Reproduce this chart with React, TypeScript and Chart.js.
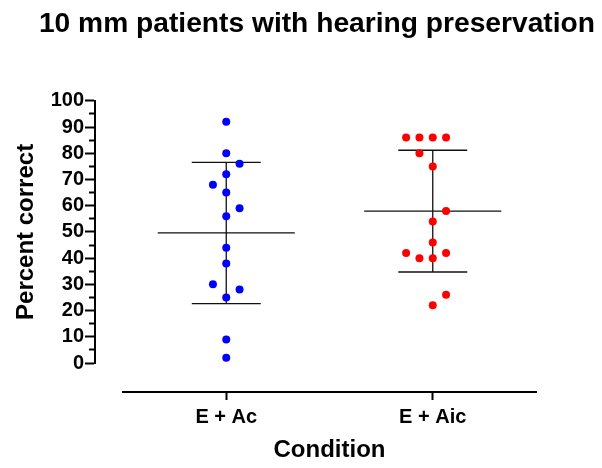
import React, { useEffect, useRef } from "react";
import { Chart, registerables } from "chart.js";

Chart.register(...registerables);

const CHART_TITLE = "10 mm patients with hearing preservation";
const X_TITLE = "Condition";
const Y_TITLE = "Percent correct";
const CATEGORIES = ["E + Ac", "E + Aic"];
const AC_VALUES = [92, 80, 76, 72, 68, 65, 59, 56, 44, 38, 30, 28, 25, 9, 2];
const AIC_VALUES = [86, 86, 86, 86, 80, 75, 58, 54, 46, 42, 42, 40, 40, 26, 22];
const SERIES = [AC_VALUES, AIC_VALUES];
const SERIES_COLORS = ["#0000ff", "#ff0000"];
const Y_MIN = 0;
const Y_MAX = 100;
const Y_STEP = 10;
const Y_MINOR_STEP = 5;

const SLOT_WIDTH = 0.0645; // horizontal spacing of scatter columns (x units)
const MEAN_HALF = 0.332;
const CAP_HALF = 0.167;
const LINE_COLOR = "#111111";

function mean(v: number[]) {
  return v.reduce((a, b) => a + b, 0) / v.length;
}
function sd(v: number[]) {
  const m = mean(v);
  return Math.sqrt(v.reduce((a, b) => a + (b - m) * (b - m), 0) / (v.length - 1));
}

// simple column-scatter spreading: points closer than minGap share no column
function swarmSlots(values: number[], minGap: number): number[] {
  const order = values.map((_, i) => i).sort((a, b) => values[a] - values[b]);
  const slots = new Array(values.length).fill(0);
  const placed: { slot: number; v: number }[] = [];
  let side = 1;
  for (const i of order) {
    const v = values[i];
    const free = (s: number) => placed.every((p) => p.slot !== s || Math.abs(p.v - v) >= minGap);
    let chosen = 0;
    if (!free(0)) {
      outer: for (let k = 1; k < 10; k++) {
        const cands = k === 1 ? [side * k, -side * k] : [-k, k];
        for (const s of cands) {
          if (free(s)) {
            chosen = s;
            break outer;
          }
        }
      }
      side = chosen < 0 ? 1 : -1;
    }
    slots[i] = chosen;
    placed.push({ slot: chosen, v });
  }
  return slots;
}

function lineDs(data: { x: number; y: number }[]) {
  return {
    type: "scatter" as const,
    data,
    showLine: true,
    borderColor: LINE_COLOR,
    borderWidth: 1.3,
    pointRadius: 0,
    fill: false,
    order: 2,
    clip: false as const,
  };
}

export default function App() {
  const ref = useRef<HTMLCanvasElement>(null);

  useEffect(() => {
    if (!ref.current) return;
    Chart.defaults.font.family = "'Liberation Sans', Arial, sans-serif";
    Chart.defaults.color = "#000";

    const datasets: any[] = [];
    SERIES.forEach((vals, g) => {
      const cx = g + 1;
      const slots = swarmSlots(vals, 5.5);
      datasets.push({
        type: "scatter",
        label: CATEGORIES[g],
        data: vals.map((v, i) => ({ x: cx + slots[i] * SLOT_WIDTH, y: v })),
        backgroundColor: SERIES_COLORS[g],
        borderColor: SERIES_COLORS[g],
        borderWidth: 0,
        pointRadius: 4,
        order: 1,
        clip: false,
      });
      const m = mean(vals);
      const s = sd(vals);
      datasets.push(lineDs([{ x: cx - MEAN_HALF, y: m }, { x: cx + MEAN_HALF, y: m }]));
      datasets.push(lineDs([{ x: cx, y: m - s }, { x: cx, y: m + s }]));
      datasets.push(lineDs([{ x: cx - CAP_HALF, y: m + s }, { x: cx + CAP_HALF, y: m + s }]));
      datasets.push(lineDs([{ x: cx - CAP_HALF, y: m - s }, { x: cx + CAP_HALF, y: m - s }]));
    });

    const hidden = {
      display: true,
      grid: { display: false },
      ticks: { display: false },
      border: { display: false },
    };

    const chart = new Chart(ref.current, {
      type: "scatter",
      data: { datasets },
      options: {
        animation: false,
        responsive: false,
        devicePixelRatio: 1,
        events: [],
        layout: { padding: { left: 0, right: 7, top: 0, bottom: 0 } },
        plugins: {
          legend: { display: false },
          tooltip: { enabled: false },
          title: {
            display: true,
            text: CHART_TITLE,
            align: "end",
            color: "#000",
            font: { size: 28.2, weight: "bold" },
            padding: { top: 7, bottom: 60 },
          },
        },
        scales: {
          x: {
            type: "linear",
            position: "bottom",
            weight: 2,
            min: 0.5,
            max: CATEGORIES.length + 0.5,
            afterBuildTicks: (scale: any) => {
              scale.ticks = CATEGORIES.map((_, i) => ({ value: i + 1 }));
            },
            afterFit: (scale: any) => {
              scale.height = 76;
            },
            ticks: {
              padding: 5,
              color: "#000",
              font: { size: 20, weight: "bold" },
              callback: (v: any) => CATEGORIES[Math.round(Number(v)) - 1] ?? "",
              autoSkip: false,
              maxRotation: 0,
            },
            grid: {
              display: true,
              drawOnChartArea: false,
              drawTicks: true,
              tickLength: 8,
              tickWidth: 2,
              tickColor: "#000",
            },
            border: { display: true, color: "#000", width: 2 },
            title: {
              display: true,
              text: X_TITLE,
              color: "#000",
              font: { size: 24, weight: "bold" },
              padding: { top: 0, bottom: 3.6 },
            },
          },
          xSpace: {
            ...hidden,
            type: "linear",
            position: "bottom",
            weight: 1,
            afterFit: (scale: any) => {
              scale.height = 29;
            },
          },
          y: {
            type: "linear",
            position: "left",
            weight: 3,
            min: Y_MIN,
            max: Y_MAX,
            afterFit: (scale: any) => {
              scale.width = 95;
            },
            ticks: {
              stepSize: Y_STEP,
              autoSkip: false,
              padding: 1,
              color: "#000",
              font: { size: 20, weight: "bold" },
            },
            grid: {
              display: true,
              drawOnChartArea: false,
              drawTicks: true,
              tickLength: 10,
              tickWidth: 2,
              tickColor: "#000",
            },
            border: { display: true, color: "#000", width: 2 },
            title: {
              display: true,
              text: Y_TITLE,
              color: "#000",
              font: { size: 24, weight: "bold" },
              padding: { top: 11.6, bottom: 0 },
            },
          },
          yMinor: {
            type: "linear",
            position: "left",
            weight: 2,
            min: Y_MIN,
            max: Y_MAX,
            display: true,
            afterBuildTicks: (scale: any) => {
              const t: { value: number }[] = [];
              for (let v = Y_MIN + Y_MINOR_STEP; v < Y_MAX; v += Y_STEP) t.push({ value: v });
              scale.ticks = t;
            },
            afterFit: (scale: any) => {
              scale.width = 0;
            },
            ticks: { display: false, autoSkip: false },
            grid: {
              display: true,
              drawOnChartArea: false,
              drawTicks: true,
              tickLength: 6,
              tickWidth: 2,
              tickColor: "#000",
            },
            border: { display: false },
          },
          ySpace: {
            ...hidden,
            type: "linear",
            position: "left",
            weight: 1,
            afterFit: (scale: any) => {
              scale.width = 28;
            },
          },
          yRight: {
            ...hidden,
            type: "linear",
            position: "right",
            weight: 1,
            afterFit: (scale: any) => {
              scale.width = 59;
            },
          },
        },
      } as any,
    });
    return () => chart.destroy();
  }, []);

  return (
    <div style={{ position: "absolute", left: 0, top: 0, width: 602, height: 468, background: "#fff" }}>
      <canvas ref={ref} width={602} height={468} style={{ display: "block" }} />
    </div>
  );
}
